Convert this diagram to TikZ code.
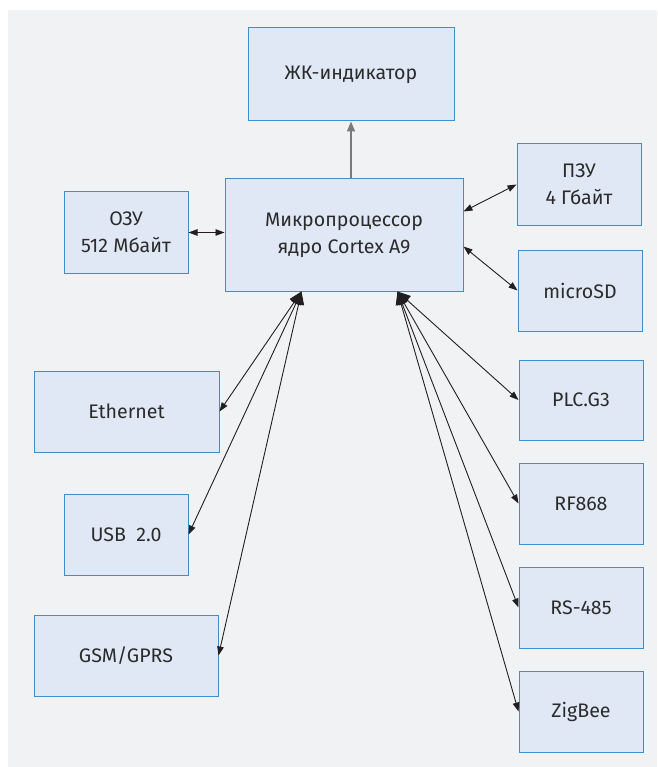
\documentclass[tikz,border=0pt]{standalone}
\usepackage{fontspec}
\setmainfont{Fira Sans}
\usetikzlibrary{arrows.meta,calc}
\definecolor{bg}{HTML}{F1F2F4}
\definecolor{boxfill}{HTML}{E1E8F5}
\definecolor{boxdraw}{HTML}{3A8FD2}
\definecolor{txt}{HTML}{2B2B2B}
\definecolor{lnk}{HTML}{231F20}
\definecolor{upline}{HTML}{7A7A7A}
\tikzset{
  blk/.style={draw=boxdraw,fill=boxfill,line width=1pt,align=center,text=txt,
    font=\fontsize{19.6}{27}\selectfont,inner sep=0pt},
  link/.style={draw=lnk,line width=0.9pt},
  tipS/.tip={Triangle[length=9pt,width=6.5pt]},
  tipB/.tip={Triangle[length=13pt,width=11pt]},
}
\begin{document}
\begin{tikzpicture}[x=1pt,y=-1pt]
\useasboundingbox (0,0) rectangle (657,767);
\fill[bg] (8,10) rectangle (657,767);
\node[blk,minimum width=206pt,minimum height=93pt] (lcd) at (351,74.5) {ЖК-индикатор};
\node[blk,minimum width=238pt,minimum height=112pt] (cpu) at (344,235) {Микропроцессор\\ядро Cortex A9};
\node[blk,minimum width=124pt,minimum height=81pt] (ram) at (126,232.5) {ОЗУ\\512 Мбайт};
\node[blk,minimum width=124pt,minimum height=81pt] (rom) at (579,184.5) {ПЗУ\\4 Гбайт};
\node[blk,minimum width=124pt,minimum height=81pt] (sd) at (580,290.5) {microSD};
\node[blk,minimum width=185pt,minimum height=81pt] (eth) at (126.5,411.5) {Ethernet};
\node[blk,minimum width=124pt,minimum height=81pt] (usb) at (126,534.5) {USB\ \ 2.0};
\node[blk,minimum width=184pt,minimum height=81pt] (gsm) at (126,655.5) {GSM/GPRS};
\node[blk,minimum width=124pt,minimum height=80pt] (plc) at (581,400) {PLC.G3};
\node[blk,minimum width=124pt,minimum height=81pt] (rf) at (581,503.5) {RF868};
\node[blk,minimum width=124pt,minimum height=81pt] (rs) at (581,607.5) {RS-485};
\node[blk,minimum width=124pt,minimum height=81pt] (zb) at (581,711.5) {ZigBee};
\coordinate (cl) at ($(cpu.south west)+(77,0)$);
\coordinate (cr) at ($(cpu.south west)+(173,0)$);
\coordinate (crom) at ($(cpu.north east)+(0,33)$);
\coordinate (csd) at ($(cpu.north east)+(0,68)$);
\draw[draw=upline,line width=1.6pt,-{Triangle[length=10pt,width=8pt]}] (lcd.south |- cpu.north) -- (lcd.south);
\draw[link,{tipS}-{tipS}] (ram.east) -- (ram.east -| cpu.west);
\draw[link,{tipS}-{tipS}] (crom) -- (rom.west);
\draw[link,{tipS}-{tipS}] (csd) -- (sd.west);
\draw[link,{tipB}-{tipS}] (cl) -- (eth.east);
\draw[link,{tipB}-{tipS}] (cl) -- (usb.east);
\draw[link,{tipB}-{tipS}] (cl) -- (gsm.east);
\draw[link,{tipB}-{tipS}] (cr) -- (plc.west);
\draw[link,{tipB}-{tipS}] (cr) -- (rf.west);
\draw[link,{tipB}-{tipS}] (cr) -- (rs.west);
\draw[link,{tipB}-{tipS}] (cr) -- (zb.west);
\end{tikzpicture}
\end{document}
